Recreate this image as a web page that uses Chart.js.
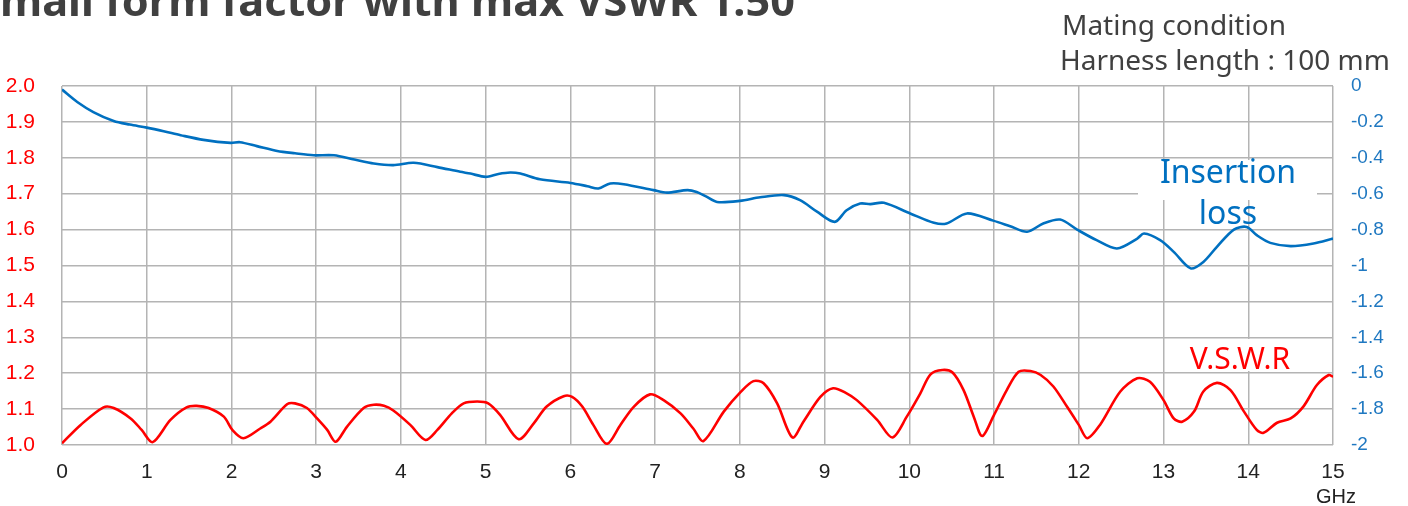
<!DOCTYPE html>
<html>
<head>
<meta charset="utf-8">
<script src="https://cdn.jsdelivr.net/npm/chart.js@4/dist/chart.umd.min.js"></script>
<style>
  html, body { margin: 0; padding: 0; background: #fff; overflow: hidden; }
  #wrap { position: relative; width: 1408px; height: 506px; }
  canvas { position: absolute; left: 0; top: 0; }
  .lbl { position: absolute; white-space: nowrap; line-height: 1; font-family: "Noto Sans", "Open Sans", sans-serif; }
  #title { left: 0; top: -21px; font-size: 42px; font-weight: bold; color: #404040; transform-origin: 0 0; }
  .note { font-size: 28px; color: #404040; }
  .box { position: absolute; background: #fff; }
</style>
</head>
<body>
<div id="wrap">
  <canvas id="chart" width="1408" height="506"></canvas>
  <div id="title" class="lbl"><span id="tS">S</span><span id="tRest">mall form factor with max VSWR 1.50</span></div>
  <div class="lbl note" style="left:1062px;top:10px">Mating condition</div>
  <div class="lbl note" style="left:1060px;top:45px">Harness length : 100 mm</div>
  <div class="box" style="left:1138px;top:160px;width:179px;height:40px"></div>
  <div class="lbl" style="left:1128px;width:200px;text-align:center;top:155px;font-size:32px;color:#0070c0">Insertion</div>
  <div class="lbl" style="left:1128px;width:200px;text-align:center;top:196px;font-size:32px;color:#0070c0">loss</div>
  <div class="box" style="left:1182px;top:339px;width:116px;height:32px"></div>
  <div class="lbl" style="left:1140px;width:200px;text-align:center;top:343px;font-size:30px;color:#ff0000">V.S.W.R</div>
  <div class="lbl" style="left:1316px;top:486px;font-size:20px;color:#222;font-family:'Liberation Sans', Arial, sans-serif">GHz</div>
</div>
<script>
// ─── DATA ────────────────────────────────────────────────────────────────────
const ilFreq = [0, 0.18, 0.37, 0.61, 0.8, 1.0, 1.2, 1.4, 1.67, 1.99, 2.1, 2.3, 2.54, 2.75, 2.97, 3.21,
  3.45, 3.68, 3.91, 4.15, 4.43, 4.7, 4.82, 5.0, 5.15, 5.29, 5.41, 5.64, 6.0, 6.2, 6.33, 6.47, 6.63,
  6.98, 7.14, 7.38, 7.49, 7.6, 7.73, 8.0, 8.24, 8.52, 8.71, 8.91, 9.12, 9.26, 9.42, 9.54, 9.7, 10.01,
  10.29, 10.44, 10.68, 10.99, 11.19, 11.39, 11.58, 11.78, 11.98, 12.21, 12.45, 12.69, 12.77, 12.96,
  13.12, 13.32, 13.47, 13.63, 13.83, 13.98, 14.1, 14.26, 14.5, 14.77, 15.0];
const ilLoss = [-0.02, -0.089, -0.145, -0.195, -0.215, -0.232, -0.252, -0.274, -0.3, -0.317, -0.313,
  -0.335, -0.362, -0.375, -0.386, -0.386, -0.41, -0.432, -0.441, -0.428, -0.452, -0.478, -0.488, -0.506,
  -0.49, -0.482, -0.488, -0.52, -0.54, -0.558, -0.571, -0.543, -0.547, -0.58, -0.594, -0.58, -0.59,
  -0.615, -0.646, -0.64, -0.62, -0.608, -0.636, -0.7, -0.757, -0.692, -0.655, -0.658, -0.651, -0.71,
  -0.762, -0.766, -0.71, -0.75, -0.781, -0.812, -0.766, -0.744, -0.8, -0.859, -0.905, -0.85, -0.822,
  -0.859, -0.924, -1.016, -0.98, -0.896, -0.8, -0.785, -0.831, -0.874, -0.892, -0.877, -0.85];

const vswrFreq = [0, 0.22, 0.49, 0.61, 0.81, 0.94, 1.07, 1.28, 1.47, 1.59, 1.73, 1.91, 2.01, 2.14, 2.34,
  2.46, 2.66, 2.75, 2.89, 3.01, 3.13, 3.23, 3.36, 3.56, 3.68, 3.8, 3.91, 4.11, 4.29, 4.43, 4.6, 4.74,
  4.9, 5.03, 5.17, 5.39, 5.57, 5.72, 5.92, 6.02, 6.14, 6.27, 6.43, 6.59, 6.75, 6.94, 7.1, 7.3, 7.45,
  7.57, 7.81, 8.01, 8.16, 8.28, 8.44, 8.62, 8.75, 8.95, 9.1, 9.26, 9.38, 9.62, 9.8, 9.97, 10.13, 10.25,
  10.39, 10.51, 10.64, 10.76, 10.86, 11.0, 11.15, 11.29, 11.43, 11.55, 11.7, 11.86, 12.0, 12.1, 12.25,
  12.49, 12.69, 12.84, 13.0, 13.12, 13.22, 13.36, 13.47, 13.63, 13.79, 13.95, 14.1, 14.18, 14.34, 14.5,
  14.65, 14.81, 14.95, 15.0];
const vswrVal = [1.005, 1.056, 1.105, 1.103, 1.074, 1.042, 1.008, 1.07, 1.105, 1.109, 1.103, 1.079,
  1.042, 1.019, 1.046, 1.065, 1.114, 1.116, 1.103, 1.074, 1.042, 1.009, 1.05, 1.103, 1.112, 1.109,
  1.096, 1.056, 1.014, 1.042, 1.088, 1.116, 1.121, 1.116, 1.084, 1.016, 1.061, 1.107, 1.136, 1.134,
  1.107, 1.056, 1.003, 1.056, 1.107, 1.141, 1.125, 1.088, 1.046, 1.011, 1.093, 1.148, 1.178, 1.172,
  1.116, 1.021, 1.065, 1.134, 1.158, 1.144, 1.125, 1.07, 1.021, 1.079, 1.144, 1.197, 1.209, 1.202,
  1.153, 1.079, 1.025, 1.084, 1.153, 1.204, 1.206, 1.195, 1.163, 1.107, 1.056, 1.019, 1.056, 1.149,
  1.186, 1.176, 1.125, 1.074, 1.065, 1.093, 1.149, 1.173, 1.153, 1.093, 1.042, 1.034, 1.062, 1.074,
  1.107, 1.167, 1.195, 1.19];

// ─── TITLE: hide the clipped "S", fit the rest to its width ──────────────────
(function fitTitle() {
  const sW = document.getElementById('tS').getBoundingClientRect().width;
  const rW = document.getElementById('tRest').getBoundingClientRect().width;
  const s = 795 / rW;
  document.getElementById('title').style.transform = `translateX(${-sW * s}px) scaleX(${s})`;
})();

// ─── CHART ───────────────────────────────────────────────────────────────────
const gridColor = '#b4b4b4';
const narrowFont = { family: "'Liberation Sans Narrow', 'Liberation Sans', Arial, sans-serif", size: 21 };

new Chart(document.getElementById('chart'), {
  type: 'line',
  data: {
    datasets: [
      {
        label: 'Insertion loss',
        data: ilFreq.map((f, i) => ({ x: f, y: ilLoss[i] })),
        yAxisID: 'y2',
        borderColor: '#0070c0',
        borderWidth: 2.6,
        pointRadius: 0,
        tension: 0.3
      },
      {
        label: 'V.S.W.R',
        data: vswrFreq.map((f, i) => ({ x: f, y: vswrVal[i] })),
        yAxisID: 'y',
        borderColor: '#ff0000',
        borderWidth: 2.6,
        pointRadius: 0,
        tension: 0.3
      }
    ]
  },
  options: {
    responsive: false,
    animation: false,
    layout: { padding: { top: 86, left: 0, right: 0, bottom: 0 } },
    plugins: { legend: { display: false }, tooltip: { enabled: false } },
    scales: {
      x: {
        type: 'linear', min: 0, max: 15,
        ticks: { stepSize: 1, color: '#222', font: narrowFont, padding: 15, maxRotation: 0 },
        grid: { color: gridColor, lineWidth: 1.5, drawTicks: false },
        border: { display: false },
        afterFit: s => { s.height = 61; }
      },
      y: {
        position: 'left', min: 1, max: 2,
        ticks: { stepSize: 0.1, color: '#ff0000', font: narrowFont, padding: 27, callback: v => v.toFixed(1) },
        grid: { color: gridColor, lineWidth: 1.5, drawTicks: false },
        border: { display: false },
        afterFit: s => { s.width = 62; }
      },
      y2: {
        position: 'right', min: -2, max: 0,
        ticks: { stepSize: 0.2, color: '#1f78c1', font: { family: "'Liberation Sans', Arial, sans-serif", size: 19 },
                 padding: 18, callback: v => String(Math.round(v * 10) / 10) },
        grid: { display: false, drawTicks: false },
        border: { display: false },
        afterFit: s => { s.width = 75; }
      }
    }
  }
});
</script>
</body>
</html>
